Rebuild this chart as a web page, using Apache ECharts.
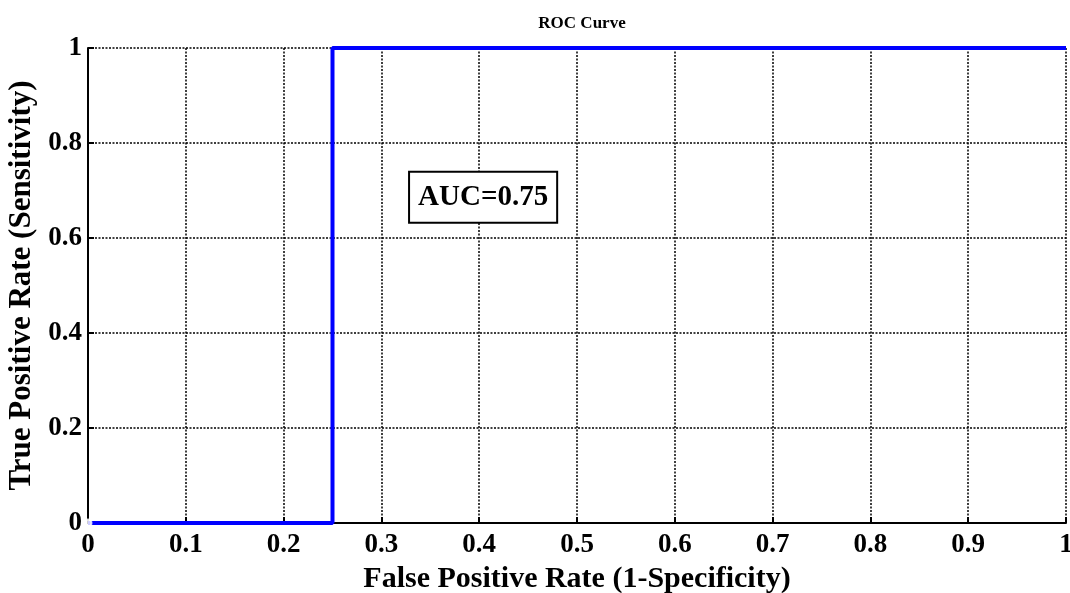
<!DOCTYPE html>
<html><head><meta charset="utf-8">
<script src="https://cdn.jsdelivr.net/npm/echarts@6/dist/echarts.min.js"></script>
<style>html,body{margin:0;padding:0;background:#fff}#c{width:1070px;height:593px}</style>
</head><body><div id="c"></div>
<script>
const fpr = [0, 0.25, 0.25, 1];
const tpr = [0, 0, 1, 1];
const startPoint = [[0, 0]];
const aucText = 'AUC=0.75';
const aucPos = [0.404, 0.686];
const font = '"Liberation Serif","Times New Roman",serif';

const chart = echarts.init(document.getElementById('c'));
const axisCommon = {
  min: 0, max: 1, interval: 0.1,
  axisLine: {show: true, onZero: false, lineStyle: {color: '#000', width: 2}},
  axisTick: {show: true, inside: true, length: 6, lineStyle: {color: '#000', width: 2}},
  splitLine: {show: true, lineStyle: {color: '#000', type: [2, 1.5], width: 1.5}},
  axisLabel: {color: '#000', fontFamily: font, fontWeight: 'bold', fontSize: 27,
    formatter: v => String(Math.round(v * 10) / 10)},
  nameTextStyle: {color: '#000', fontFamily: font, fontWeight: 'bold', fontSize: 30}
};
chart.setOption({
  animation: false,
  title: {text: 'ROC Curve', left: 577, top: 10, textAlign: 'center',
    textStyle: {fontFamily: font, fontWeight: 'bold', fontSize: 17, color: '#000'}},
  grid: {left: 88, right: 4, top: 48, bottom: 70, outerBoundsMode: 'none', containLabel: false},
  xAxis: Object.assign({}, axisCommon, {type: 'value', name: 'False Positive Rate (1-Specificity)',
    nameLocation: 'middle', nameGap: 41,
    axisLabel: Object.assign({}, axisCommon.axisLabel, {margin: 9})}),
  yAxis: Object.assign({}, axisCommon, {type: 'value', interval: 0.2,
    name: 'True Positive Rate (Sensitivity)', nameLocation: 'middle', nameGap: 44,
    nameTextStyle: Object.assign({}, axisCommon.nameTextStyle, {fontSize: 31}),
    axisLabel: Object.assign({}, axisCommon.axisLabel, {margin: 6})}),
  series: [
    {type: 'line', data: fpr.map((x, i) => [x, tpr[i]]), showSymbol: false,
      lineStyle: {color: '#0000ff', width: 4}, z: 3},
    {type: 'scatter', data: startPoint, symbol: 'emptyCircle', symbolSize: 7,
      itemStyle: {color: '#fff', borderColor: '#ff0000', borderWidth: 1}, z: 4}
  ]
});
const p = chart.convertToPixel({gridIndex: 0}, aucPos);
chart.setOption({graphic: [{
  type: 'text', x: p[0], y: p[1], z: 10,
  style: {text: aucText, fontFamily: font, fontWeight: 'bold', fontSize: 29, fill: '#000',
    align: 'center', verticalAlign: 'middle', backgroundColor: '#fff',
    borderColor: '#000', borderWidth: 2, padding: [11, 8, 9, 8]}
}]});
</script></body></html>
